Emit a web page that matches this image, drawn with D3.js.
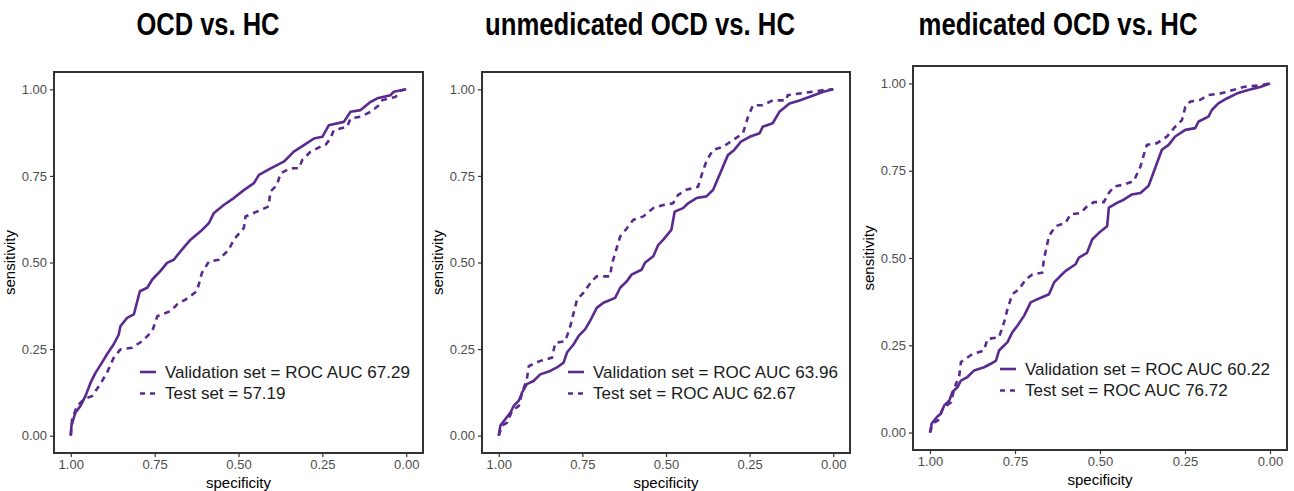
<!DOCTYPE html>
<meta charset="utf-8">
<head>
    <script src="https://d3js.org/d3.v7.min.js"></script>
    <style>
        body { margin: 0; background: #fff; }
        .tick text { font: 13px "Liberation Sans", Arial, sans-serif; fill: #4d4d4d; }
        .tick line { stroke: #333; stroke-width: 1.2px; }
        .domain { display: none; }
    </style>
</head>
<body>
<div id="graph"></div>
<script>
    // titles and legend labels
    var titles = ["OCD vs. HC", "unmedicated OCD vs. HC", "medicated OCD vs. HC"];
    var valLabels = ["Validation set = ROC AUC 67.29", "Validation set = ROC AUC 63.96", "Validation set = ROC AUC 60.22"];
    var testLabels = ["Test set = 57.19", "Test set = ROC AUC 62.67", "Test set = ROC AUC 76.72"];
    var ticks = [1.00, 0.75, 0.50, 0.25, 0.00];

    // [specificity, sensitivity]
    var ocdVal = [[1,0],[0.998,0.029],[0.986,0.067],[0.971,0.086],[0.956,0.115],[0.941,0.153],[0.926,0.182],
        [0.907,0.211],[0.892,0.235],[0.872,0.264],[0.857,0.292],[0.852,0.316],[0.832,0.340],[0.812,0.350],
        [0.794,0.417],[0.772,0.427],[0.757,0.451],[0.733,0.475],[0.713,0.499],[0.693,0.508],[0.673,0.532],
        [0.643,0.566],[0.613,0.590],[0.588,0.614],[0.574,0.642],[0.544,0.666],[0.514,0.686],[0.484,0.709],
        [0.454,0.729],[0.439,0.753],[0.404,0.772],[0.365,0.791],[0.335,0.820],[0.305,0.839],[0.275,0.858],
        [0.250,0.863],[0.231,0.896],[0.186,0.906],[0.166,0.935],[0.136,0.940],[0.106,0.964],[0.086,0.974],
        [0.047,0.983],[0.037,0.993],[0,1]];
    var ocdTest = [[1,0],[0.996,0.048],[0.981,0.086],[0.961,0.105],[0.936,0.115],[0.912,0.149],[0.892,0.182],
        [0.872,0.225],[0.852,0.249],[0.817,0.254],[0.787,0.273],[0.757,0.302],[0.742,0.345],[0.702,0.360],
        [0.683,0.379],[0.658,0.393],[0.624,0.417],[0.609,0.470],[0.588,0.503],[0.559,0.508],[0.529,0.537],
        [0.514,0.566],[0.484,0.600],[0.479,0.633],[0.445,0.647],[0.410,0.662],[0.405,0.705],[0.385,0.724],
        [0.375,0.757],[0.345,0.772],[0.320,0.772],[0.310,0.796],[0.285,0.820],[0.255,0.835],[0.241,0.839],
        [0.226,0.858],[0.216,0.882],[0.176,0.892],[0.166,0.916],[0.136,0.921],[0.106,0.935],[0.081,0.954],
        [0.071,0.969],[0.032,0.978],[0.017,0.997],[0,1]];
    var unmedVal = [[1,0],[0.995,0.029],[0.980,0.048],[0.965,0.067],[0.955,0.086],[0.940,0.101],[0.930,0.125],
        [0.916,0.149],[0.896,0.158],[0.876,0.177],[0.846,0.187],[0.826,0.197],[0.806,0.211],[0.796,0.240],
        [0.776,0.264],[0.761,0.288],[0.742,0.307],[0.727,0.331],[0.707,0.369],[0.687,0.384],[0.652,0.398],
        [0.637,0.427],[0.617,0.446],[0.603,0.465],[0.573,0.479],[0.563,0.499],[0.538,0.518],[0.523,0.551],
        [0.508,0.566],[0.484,0.594],[0.474,0.647],[0.449,0.657],[0.434,0.671],[0.409,0.686],[0.379,0.691],
        [0.359,0.710],[0.315,0.810],[0.296,0.825],[0.276,0.849],[0.250,0.863],[0.220,0.873],[0.211,0.892],
        [0.181,0.902],[0.161,0.935],[0.131,0.959],[0.101,0.968],[0.072,0.978],[0.032,0.992],[0,1]];
    var unmedTest = [[1,0],[0.990,0.029],[0.975,0.038],[0.960,0.072],[0.940,0.086],[0.930,0.125],[0.916,0.163],
        [0.910,0.201],[0.876,0.216],[0.841,0.225],[0.831,0.268],[0.801,0.273],[0.786,0.316],[0.776,0.355],
        [0.766,0.393],[0.747,0.412],[0.722,0.446],[0.707,0.460],[0.667,0.460],[0.662,0.494],[0.652,0.527],
        [0.637,0.575],[0.617,0.599],[0.598,0.623],[0.568,0.633],[0.538,0.657],[0.508,0.666],[0.479,0.671],
        [0.464,0.695],[0.439,0.710],[0.404,0.719],[0.392,0.757],[0.378,0.796],[0.359,0.825],[0.330,0.834],
        [0.300,0.853],[0.270,0.873],[0.255,0.920],[0.240,0.954],[0.211,0.954],[0.181,0.968],[0.141,0.968],
        [0.136,0.983],[0.101,0.988],[0.062,0.993],[0.022,0.999],[0,1]];
    var medVal = [[1,0],[0.995,0.026],[0.979,0.045],[0.968,0.054],[0.958,0.078],[0.943,0.092],[0.934,0.116],
        [0.919,0.130],[0.909,0.149],[0.890,0.159],[0.870,0.178],[0.841,0.187],[0.821,0.197],[0.806,0.206],
        [0.797,0.235],[0.772,0.259],[0.758,0.287],[0.743,0.306],[0.723,0.335],[0.704,0.373],[0.684,0.382],
        [0.650,0.396],[0.635,0.430],[0.616,0.449],[0.601,0.463],[0.572,0.482],[0.562,0.501],[0.538,0.515],
        [0.523,0.553],[0.503,0.572],[0.479,0.591],[0.474,0.644],[0.450,0.658],[0.430,0.667],[0.406,0.682],
        [0.381,0.686],[0.357,0.707],[0.318,0.810],[0.298,0.824],[0.279,0.848],[0.249,0.867],[0.220,0.872],
        [0.210,0.891],[0.181,0.905],[0.171,0.924],[0.152,0.943],[0.127,0.957],[0.098,0.971],[0.064,0.981],
        [0.029,0.990],[0,1]];
    var medTest = [[1,0],[0.992,0.026],[0.976,0.035],[0.963,0.068],[0.938,0.087],[0.929,0.125],[0.914,0.163],
        [0.909,0.202],[0.875,0.225],[0.841,0.235],[0.831,0.268],[0.797,0.273],[0.782,0.316],[0.772,0.354],
        [0.758,0.396],[0.738,0.411],[0.718,0.439],[0.699,0.453],[0.670,0.458],[0.665,0.496],[0.650,0.563],
        [0.631,0.591],[0.601,0.601],[0.587,0.625],[0.557,0.629],[0.538,0.648],[0.518,0.660],[0.489,0.660],
        [0.474,0.686],[0.459,0.705],[0.430,0.710],[0.401,0.720],[0.381,0.762],[0.371,0.796],[0.362,0.824],
        [0.332,0.829],[0.303,0.848],[0.279,0.876],[0.259,0.895],[0.249,0.933],[0.235,0.948],[0.205,0.953],
        [0.181,0.967],[0.147,0.971],[0.127,0.976],[0.078,0.990],[0.029,0.995],[0,1]];

    var purple = "#5b2a8e";

    // panel frames (pixel layout); titleW squeezes the bold title to a narrow look
    var panels = [
        {left: 54,  right: 423,  top: 72, bottom: 453, titleX: 208,  titleW: 143, legX: 140,  legY: 372, val: ocdVal,   test: ocdTest},
        {left: 482, right: 850,  top: 72, bottom: 453, titleX: 640,  titleW: 310, legX: 568,  legY: 372, val: unmedVal, test: unmedTest},
        {left: 913, right: 1287, top: 66, bottom: 450, titleX: 1058, titleW: 279, legX: 1000, legY: 369, val: medVal,   test: medTest}
    ];

    var svg = d3.select("#graph")
      .append("svg")
        .attr("width", 1294)
        .attr("height", 491);

    panels.forEach(function(p, i) {
        // ggplot style 5% expansion
        var padX = (p.right - p.left) * 0.05 / 1.1;
        var padY = (p.bottom - p.top) * 0.05 / 1.1;
        var x = d3.scaleLinear().domain([1, 0]).range([p.left + padX, p.right - padX]);
        var y = d3.scaleLinear().domain([0, 1]).range([p.bottom - padY, p.top + padY]);

        // title
        svg.append("text")
            .attr("x", p.titleX - p.titleW / 2)
            .attr("y", 35)
            .attr("textLength", p.titleW)
            .attr("lengthAdjust", "spacingAndGlyphs")
            .style("font-family", "'Liberation Sans', Arial, sans-serif")
            .style("font-weight", "bold")
            .style("font-size", "31px")
            .style("fill", "#000")
            .text(titles[i]);

        // axes
        svg.append("g")
            .attr("transform", "translate(0," + p.bottom + ")")
            .call(d3.axisBottom(x).tickValues(ticks).tickFormat(d3.format(".2f")).tickSize(4).tickPadding(3));
        svg.append("g")
            .attr("transform", "translate(" + p.left + ",0)")
            .call(d3.axisLeft(y).tickValues(ticks).tickFormat(d3.format(".2f")).tickSize(4).tickPadding(3));

        // axis titles
        svg.append("text")
            .attr("x", (p.left + p.right) / 2)
            .attr("y", p.bottom + 35)
            .attr("text-anchor", "middle")
            .style("font", "15px 'Liberation Sans', Arial, sans-serif")
            .text("specificity");
        svg.append("text")
            .attr("transform", "rotate(-90)")
            .attr("x", -(p.top + p.bottom) / 2)
            .attr("y", p.left - 39)
            .attr("text-anchor", "middle")
            .style("font", "15px 'Liberation Sans', Arial, sans-serif")
            .text("sensitivity");

        // curves
        var line = d3.line()
            .x(function(d) { return x(d[0]); })
            .y(function(d) { return y(d[1]); });

        svg.append("path")
            .datum(p.test)
            .attr("d", line)
            .attr("fill", "none")
            .attr("stroke", purple)
            .attr("stroke-width", 2.6)
            .attr("stroke-dasharray", "6,5");
        svg.append("path")
            .datum(p.val)
            .attr("d", line)
            .attr("fill", "none")
            .attr("stroke", purple)
            .attr("stroke-width", 2.6)
            .attr("stroke-linejoin", "round");

        // frame
        svg.append("rect")
            .attr("x", p.left)
            .attr("y", p.top)
            .attr("width", p.right - p.left)
            .attr("height", p.bottom - p.top)
            .attr("fill", "none")
            .attr("stroke", "#333")
            .attr("stroke-width", 2);

        // legend
        var leg = [{label: valLabels[i], dash: null}, {label: testLabels[i], dash: "5,5"}];
        leg.forEach(function(l, j) {
            var ly = p.legY + j * 21.5;
            svg.append("line")
                .attr("x1", p.legX).attr("x2", p.legX + 16)
                .attr("y1", ly).attr("y2", ly)
                .attr("stroke", purple)
                .attr("stroke-width", 2.6)
                .attr("stroke-dasharray", l.dash);
            svg.append("text")
                .attr("x", p.legX + 25)
                .attr("y", ly)
                .attr("dy", "0.35em")
                .style("font", "17px 'Liberation Sans', Arial, sans-serif")
                .style("fill", "#1a1a1a")
                .text(l.label);
        });
    });
</script>
</body>
